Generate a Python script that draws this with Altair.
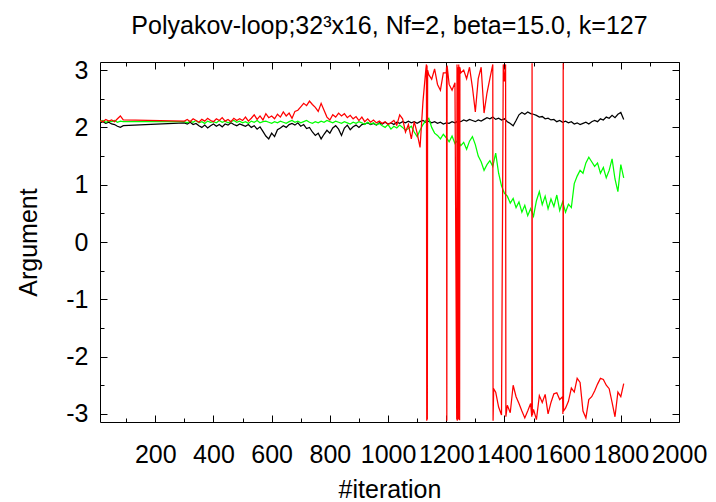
import math
import altair as alt
import pandas as pd

FONT = "Liberation Sans"

# ---- data ----
iter_early = [10, 20, 30, 40, 50, 60, 70, 80, 90]
iter_main = list(range(300, 1820, 10))

black_early = [2.08, 2.10, 2.07, 2.09, 2.06, 2.05, 2.02, 2.00, 2.03]
black_main = [
    2.08, 2.06, 2.09, 2.05, 2.07, 2.03, 2.00, 2.04, 1.99, 2.03,
    2.06, 2.02, 2.05, 2.01, 2.06, 2.04, 2.08, 2.05, 2.03, 2.06,
    2.04, 2.02, 2.05, 2.00, 2.03, 1.97, 2.01, 1.93, 1.85, 1.80,
    1.90, 1.84, 1.96, 1.99, 2.03, 2.00, 2.05, 2.07, 2.04, 2.08,
    2.02, 2.05, 1.98, 2.00, 1.92, 1.86, 1.90, 1.80, 1.88, 1.95,
    1.90, 1.99, 2.03, 1.97, 1.86, 1.99, 2.04, 1.96, 2.01, 2.04,
    2.00, 2.05, 2.06, 2.08, 2.05, 2.07, 2.04, 2.08, 2.06, 2.09,
    2.06, 2.08, 2.05, 2.09, 2.07, 2.10, 2.08, 2.11, 2.08, 2.10,
    2.07, 2.10, 2.12, 2.09, 2.11, 2.08, 2.10, 2.07, 2.09, 2.06,
    2.08, 2.07, 2.10, 2.08, 2.11, 2.10, 2.13, 2.11, 2.14, 2.12,
    2.10, 2.13, 2.11, 2.14, 2.17, 2.15, 2.18, 2.14, 2.16, 2.13,
    2.15, 2.10, 2.07, 2.03, 2.12, 2.22, 2.26, 2.23, 2.27, 2.24,
    2.23, 2.21, 2.18, 2.19, 2.15, 2.16, 2.13, 2.14, 2.10, 2.12,
    2.09, 2.11, 2.08, 2.10, 2.06, 2.08, 2.05, 2.07, 2.09, 2.06,
    2.10, 2.12, 2.10, 2.15, 2.13, 2.18, 2.16, 2.21, 2.17, 2.23,
    2.26, 2.14,
]

green_early = [2.10, 2.12, 2.09, 2.11, 2.10, 2.12, 2.09, 2.11, 2.10]
green_main = [
    2.10, 2.08, 2.11, 2.09, 2.12, 2.08, 2.10, 2.07, 2.11, 2.09,
    2.10, 2.08, 2.12, 2.09, 2.11, 2.08, 2.10, 2.12, 2.09, 2.11,
    2.08, 2.10, 2.07, 2.11, 2.09, 2.12, 2.08, 2.10, 2.11, 2.09,
    2.07, 2.10, 2.08, 2.11, 2.09, 2.07, 2.10, 2.12, 2.09, 2.11,
    2.08, 2.10, 2.12, 2.09, 2.07, 2.10, 2.08, 2.11, 2.09, 2.12,
    2.10, 2.08, 2.11, 2.09, 2.07, 2.10, 2.08, 2.06, 2.09, 2.07,
    2.10, 2.08, 2.05, 2.09, 2.06, 2.08, 2.04, 2.07, 2.03, 2.00,
    2.05, 1.97, 2.02, 1.99, 2.04, 2.00, 1.95, 1.98, 2.02, 1.92,
    1.84, 1.95, 2.05, 2.12, 2.16, 2.00, 1.90, 1.86, 1.80, 1.88,
    1.82, 1.75, 1.85, 1.72, 1.78, 1.68, 1.74, 1.62, 1.76, 1.84,
    1.70, 1.50, 1.40, 1.25, 1.35, 1.42, 1.32, 1.55, 1.20, 0.98,
    0.85, 0.80, 0.68, 0.76, 0.60, 0.70, 0.52, 0.64, 0.46, 0.58,
    0.45, 0.72, 0.88, 0.65, 0.80, 0.58, 0.75, 0.62, 0.82, 0.55,
    0.70, 0.52, 0.66, 0.60, 1.02, 1.15, 1.25, 1.20, 1.38, 1.48,
    1.40, 1.32, 1.38, 1.20, 1.30, 1.12, 1.25, 1.45, 1.10, 0.88,
    1.35, 1.12,
]

red_early = [2.12, 2.10, 2.14, 2.11, 2.13, 2.10, 2.15, 2.20, 2.13]
red_main = [
    2.11, 2.14, 2.10, 2.15, 2.12, 2.09, 2.14, 2.11, 2.16, 2.12,
    2.10, 2.15, 2.12, 2.17, 2.11, 2.14, 2.10, 2.16, 2.12, 2.15,
    2.12, 2.18, 2.11, 2.16, 2.22, 2.14, 2.20, 2.13, 2.24, 2.17,
    2.20, 2.15, 2.23, 2.18, 2.27, 2.20, 2.25, 2.16, 2.28, 2.30,
    2.36, 2.42, 2.38, 2.46, 2.40, 2.35, 2.28, 2.42, 2.30, 2.18,
    2.13, 2.22, 2.18, 2.25, 2.20, 2.24, 2.17, 2.21, 2.15, 2.19,
    2.12, 2.18, 2.10, 2.15, 2.09, 2.13, 2.08, 2.11, 2.07, 2.10,
    2.05, 2.08, 2.12, 2.04, 2.22, 2.15, 1.92, 2.05, 1.80, 2.10,
    1.90, 1.65, 2.45, 3.02, 2.92, 2.84, 3.02, 2.75, 2.65, 2.95,
    2.95, 2.75, 2.65, 2.78, 2.70, 2.95, 3.00, 2.85, 3.05, 2.70,
    2.27, 2.85, 3.05, 2.25, 2.60, 2.85, 3.10, -2.62, -2.88, -3.02,
    2.80, -2.85, -2.98, -2.50, -2.70, -2.82, -2.95, -3.07, -2.95, -2.82,
    -2.92, -3.10, -2.68, -2.80, -2.66, -3.00, -2.80, -2.65, -2.63, -2.75,
    -2.70, -2.90, -2.78, -2.55, -2.62, -2.38, -2.45, -2.95, -3.07, -2.75,
    -2.70, -2.60, -2.48, -2.38, -2.40, -2.50, -2.56, -2.80, -3.05, -2.62,
    -2.70, -2.47,
]
# phase wrap-arounds of the red series (jumps between +pi and -pi)
red_wrap_iter = [1132, 1133, 1134, 1135, 1136,
                 1201, 1202, 1203,
                 1236, 1237, 1238, 1239, 1242, 1243, 1244, 1245, 1246, 1247,
                 1361, 1363,
                 1396, 1398, 1402, 1404, 1405,
                 1494, 1495, 1496,
                 1601, 1602, 1603]
red_wrap_arg = [3.10, -3.12, 3.08, -3.10, 3.00,
                3.05, -3.12, 3.08,
                -3.10, 3.10, -3.12, 3.05, -3.10, 3.10, -3.08, 3.06, -3.11, 3.05,
                -3.12, -2.56,
                3.10, 2.95, 2.92, 3.10, -3.05,
                -3.05, 3.12, -3.02,
                -3.00, 3.12, -2.95]

x_major = [200, 400, 600, 800, 1000, 1200, 1400, 1600, 1800, 2000]
x_minor = [100, 300, 500, 700, 900, 1100, 1300, 1500, 1700, 1900]
y_major = [-3, -2, -1, 0, 1, 2, 3]
y_minor = [-2.5, -1.5, -0.5, 0.5, 1.5, 2.5]

# ---- tables ----
black_df = pd.DataFrame({"iteration": iter_early + iter_main,
                         "argument": black_early + black_main})
green_df = pd.DataFrame({"iteration": iter_early + iter_main,
                         "argument": green_early + green_main})
red_df = pd.DataFrame({"iteration": iter_early + iter_main + red_wrap_iter,
                       "argument": red_early + red_main + red_wrap_arg}
                      ).sort_values("iteration").reset_index(drop=True)

xs = alt.Scale(domain=[10, 2000], nice=False, zero=False)
ys = alt.Scale(domain=[-math.pi, math.pi], nice=False, zero=False)


def series(df, color):
    return alt.Chart(df).mark_line(color=color, strokeWidth=1.25, clip=True).encode(
        x=alt.X("iteration:Q", scale=xs, axis=None),
        y=alt.Y("argument:Q", scale=ys, axis=None),
    )


common = dict(grid=False, domain=False, tickColor="black", tickWidth=1,
              labelFont=FONT, labelFontSize=25, labelColor="black",
              titleFont=FONT, titleFontSize=25, titleFontWeight="normal",
              titleColor="black", labelOverlap=False, labelFlush=False)


def axis_layer(xaxis, yaxis):
    return alt.Chart(black_df).mark_line(strokeOpacity=0).encode(
        x=alt.X("iteration:Q", scale=xs, axis=xaxis),
        y=alt.Y("argument:Q", scale=ys, axis=yaxis),
    )


ax_main = axis_layer(
    alt.Axis(orient="bottom", values=x_major, tickSize=7, offset=-7,
             labelPadding=20, labelExpr="'' + datum.value",
             title="#iteration", titleX=289.5, titleY=82,
             titleBaseline="alphabetic", titleAlign="center", **common),
    alt.Axis(orient="left", values=y_major, tickSize=7, offset=-7,
             labelPadding=12,
             labelExpr="datum.value < 0 ? '-' + abs(datum.value) : '' + datum.value",
             title="Argument", titleX=-71, titleY=180, titleAngle=270,
             titleBaseline="alphabetic", titleAlign="center", **common),
)
ax_minor = axis_layer(
    alt.Axis(orient="bottom", values=x_minor, tickSize=4, offset=-4,
             labels=False, title=None, **common),
    alt.Axis(orient="left", values=y_minor, tickSize=4, offset=-4,
             labels=False, title=None, **common),
)
ax_mirror = axis_layer(
    alt.Axis(orient="top", values=x_major, tickSize=7, offset=-7,
             labels=False, title=None, **common),
    alt.Axis(orient="right", values=y_major, tickSize=7, offset=-7,
             labels=False, title=None, **common),
)
ax_mirror_minor = axis_layer(
    alt.Axis(orient="top", values=x_minor, tickSize=4, offset=-4,
             labels=False, title=None, **common),
    alt.Axis(orient="right", values=y_minor, tickSize=4, offset=-4,
             labels=False, title=None, **common),
)

chart = alt.layer(
    ax_main, ax_minor, ax_mirror, ax_mirror_minor,
    series(black_df, "#000000"),
    series(green_df, "#00ff00"),
    series(red_df, "#ff0000"),
).resolve_axis(
    x="independent", y="independent"
).properties(
    width=579,
    height=360,
    autosize=alt.AutoSizeParams(type="none"),
    padding={"left": 100, "top": 62, "right": 37, "bottom": 80},
    title=alt.TitleParams(
        text="Polyakov-loop;32³x16, Nf=2, beta=15.0, k=127",
        font=FONT, fontSize=25, fontWeight="normal", color="black",
        anchor="middle", baseline="alphabetic", offset=-1,
    ),
).configure_view(stroke="black", strokeWidth=1)

chart.save("out.html", embed_options={"renderer": "svg", "actions": False})
